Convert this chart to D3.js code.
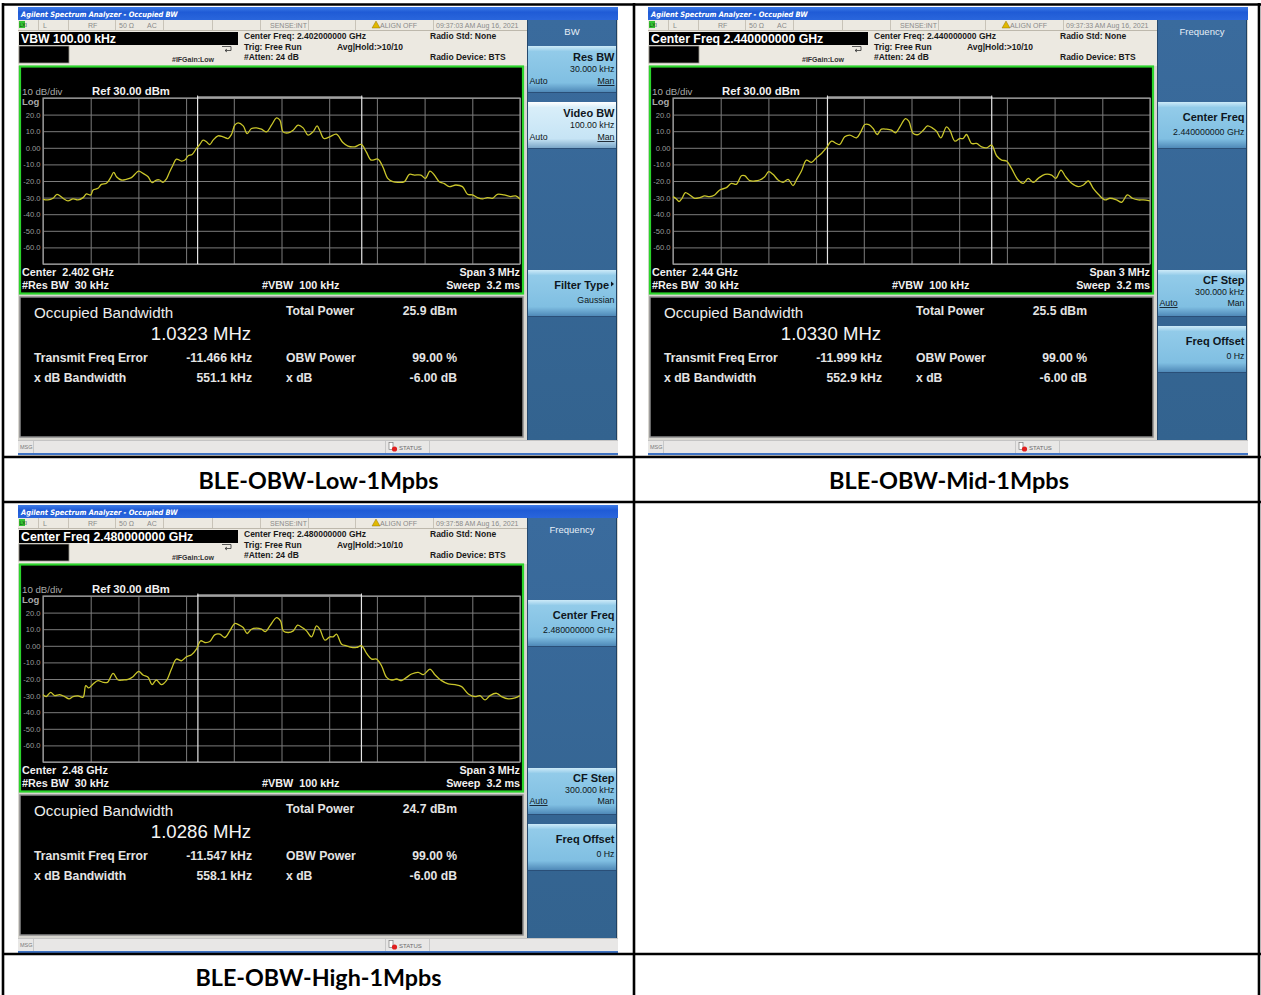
<!DOCTYPE html>
<html>
<head>
<meta charset="utf-8">
<script src="https://cdn.jsdelivr.net/npm/d3@7"></script>
<style>
  html, body { margin: 0; padding: 0; background: #fff; }
  svg { display: block; font-family: "Liberation Sans", Arial, sans-serif; }
</style>
</head>
<body>
<svg id="page" width="1261" height="995"></svg>
<script>
// ---- measurement data -------------------------------------------------------
const captions        = ["BLE-OBW-Low-1Mpbs", "BLE-OBW-Mid-1Mpbs", "BLE-OBW-High-1Mpbs"];
const centerFreqGHz   = ["2.402000000", "2.440000000", "2.480000000"];
const centerShort     = ["2.402", "2.44", "2.48"];
const timestamps      = ["09:37:03 AM Aug 16, 2021", "09:37:33 AM Aug 16, 2021", "09:37:58 AM Aug 16, 2021"];
const occupiedBwMHz   = [1.0323, 1.0330, 1.0286];
const totalPowerDbm   = [25.9, 25.5, 24.7];
const freqErrorKHz    = [-11.466, -11.999, -11.547];
const xdbBandwidthKHz = [551.1, 552.9, 558.1];
const obwPowerPct     = 99.00;
const xdbValue        = -6.00;

const refLevelDbm = 30;
const dbPerDiv    = 10;
const spanKHz     = 3000;
const yTickValues = [20, 10, 0, -10, -20, -30, -40, -50, -60];
const yTickLabels = ["20.0", "10.0", "0.00", "-10.0", "-20.0", "-30.0", "-40.0", "-50.0", "-60.0"];

// trace samples: frequency offset from centre (kHz) and level (dBm)
const lowOffsetKHz = [-1500,-1469,-1437,-1412,-1374,-1343,-1311,-1280,-1248,-1227,-1200,-1185,-1154,-1133,-1101,-1075,-1055,-1038,-1007,-976,-944,-898,-871,-839,-814,-787,-766,-745,-724,-703,-682,-661,-629,-608,-587,-562,-535,-514,-493,-472,-451,-430,-399,-367,-336,-315,-294,-273,-241,-216,-189,-157,-126,-94,-63,-31,-10,10,42,73,104,136,167,198,224,240,267,303,345,386,418,460,501,533,564,606,637,668,700,731,773,804,836,877,905,934,961,992,1024,1055,1097,1138,1170,1201,1232,1264,1295,1327,1358,1400,1441,1473,1500];
const lowLevelDbm  = [-31,-31.4,-30.4,-28,-30.4,-32,-30.8,-31.4,-30,-27.8,-28.4,-25.4,-24.4,-22,-21.4,-18,-14.8,-17.4,-19.4,-19,-18,-14,-15.4,-17.4,-21,-19.4,-19.4,-20.8,-18.8,-14.4,-10.4,-6.8,-8,-7.4,-4.8,-4,-0.4,2,4.6,3.6,2,4.6,7.2,6.6,5.6,8,13.6,15,13.2,8.6,11.6,12,11.2,9.6,13.6,18,16.6,9.6,9,10.6,13.6,12,7.6,9.6,13.2,10.6,5.6,6.6,8.2,3.2,1,0.6,2,-2.4,-7.4,-6.8,-11.4,-18.4,-20.4,-20.8,-20.4,-16,-16.4,-16.4,-18.4,-14,-16.4,-20.4,-21.6,-23.4,-22.4,-23.4,-28,-28.4,-30,-30.8,-30,-30.4,-28,-28.4,-29.4,-29,-30.8];

const midOffsetKHz = [-1500,-1479,-1462,-1443,-1422,-1395,-1364,-1332,-1301,-1269,-1238,-1206,-1164,-1133,-1101,-1070,-1049,-1017,-986,-955,-923,-898,-871,-839,-808,-776,-745,-724,-692,-661,-629,-598,-566,-535,-503,-472,-451,-420,-388,-346,-319,-294,-268,-241,-216,-189,-157,-126,-101,-73,-38,-17,11,42,74,101,130,157,185,220,241,273,304,325,346,378,409,441,472,504,535,567,598,629,671,703,734,766,797,839,881,908,940,969,1007,1049,1081,1112,1143,1175,1217,1248,1290,1322,1358,1389,1427,1458,1500];
const midLevelDbm  = [-29.4,-30.8,-32.4,-30.4,-27,-28.4,-30.4,-30,-29,-29.4,-28.4,-25.4,-24,-21.4,-22,-16.8,-16.8,-19.8,-20,-19.4,-17.4,-14.4,-16,-19.4,-20.8,-19,-22.8,-19.4,-14,-7.4,-8.8,-6,-3.4,0,4,2.6,2,6.6,7.6,6,9.6,14,14,11.6,8,11.2,11.2,10.6,9,12.6,17.6,16,8.6,8,10.6,13.2,12,10,6,12.6,10.6,4,5.6,5.6,8,2.6,2.6,0.6,0,1.6,-4.8,-7.4,-8,-12.4,-19.4,-21.4,-18.4,-20.8,-18.4,-16,-16.4,-18.4,-13.4,-17.4,-21.4,-23.4,-22.4,-20,-24.4,-28,-31.4,-30.4,-31.4,-32.8,-28.4,-30.4,-31.4,-31.4,-32];

const highOffsetKHz = [-1500,-1479,-1452,-1427,-1395,-1364,-1336,-1311,-1280,-1248,-1231,-1213,-1185,-1154,-1122,-1095,-1059,-1028,-996,-965,-934,-898,-871,-839,-814,-787,-755,-724,-692,-661,-629,-598,-566,-535,-508,-482,-451,-420,-388,-357,-325,-294,-268,-241,-216,-189,-157,-126,-101,-73,-31,-6,11,42,74,101,130,157,189,220,241,273,304,325,346,378,409,441,472,504,535,567,598,629,661,692,724,755,787,818,860,892,934,965,1007,1049,1091,1133,1175,1217,1248,1280,1311,1353,1384,1427,1469,1500];
const highLevelDbm  = [-29.4,-30.6,-28,-30,-29.4,-30.6,-32,-30.6,-30.2,-31,-24,-25.4,-23,-21,-22,-22,-16.6,-20.6,-20.6,-20.2,-18.6,-15.4,-17.6,-19,-23.4,-20.6,-23.4,-21,-14,-8,-9,-6.6,-5.4,-2,3,2,2.6,6.6,7,5,9,13.4,12.6,11,7.4,10,10.6,10,8.6,12,17,15,9,8,9,12.4,11,9,5.4,12,10,3.4,5.4,5.4,7,1,0,-1,-1,0,-4.6,-8,-8,-12,-19,-20.6,-20,-21,-19,-17,-16,-17.4,-14,-17.4,-21,-23,-23.4,-24.6,-29,-30.6,-30,-32.6,-30,-28.6,-30.6,-32,-31.4,-30];

const traceOffsets = [lowOffsetKHz, midOffsetKHz, highOffsetKHz];
const traceLevels  = [lowLevelDbm, midLevelDbm, highLevelDbm];

// soft keys shown in the right-hand menu of each capture
const bwMenu = { title: "BW", keys: [
  { slot: 0, label: "Res BW", value: "30.000 kHz", auto: true, underline: "man" },
  { slot: 1, label: "Video BW", value: "100.00 kHz", auto: true, underline: "man", selected: true },
  { slot: 4, label: "Filter Type", value: "Gaussian", arrow: true }
]};
const freqMenu = (cf) => ({ title: "Frequency", keys: [
  { slot: 1, label: "Center Freq", value: cf + " GHz" },
  { slot: 4, label: "CF Step", value: "300.000 kHz", auto: true, underline: "auto", compact: true },
  { slot: 5, label: "Freq Offset", value: "0 Hz" }
]});

// ---- page ----------------------------------------------------------------------
const svg = d3.select("#page");
const defs = svg.append("defs");
const NB = "\u00a0";

function vGradient(id, stops) {
  const lg = defs.append("linearGradient").attr("id", id).attr("x1", 0).attr("y1", 0).attr("x2", 0).attr("y2", 1);
  stops.forEach(([o, c]) => lg.append("stop").attr("offset", o).attr("stop-color", c));
}
vGradient("titleGrad", [["0%", "#3d7be6"], ["40%", "#1f5bd6"], ["100%", "#2a66dc"]]);
vGradient("keyGrad", [["0%", "#cdeaf8"], ["12%", "#92cbe9"], ["80%", "#80bfe2"], ["100%", "#4f89b8"]]);
vGradient("keySelGrad", [["0%", "#ffffff"], ["12%", "#d8eef9"], ["80%", "#c6e4f5"], ["100%", "#7aa6c8"]]);
vGradient("menuGrad", [["0%", "#3a6b9d"], ["100%", "#33638f"]]);

// one analyzer capture
function drawCapture(g, i, menu, headerText) {
  const PW = 600, PH = 449;
  // frame
  g.append("rect").attr("x", 0).attr("y", 0).attr("width", PW).attr("height", PH).attr("fill", "#d8d6d0");

  // window title bar
  g.append("rect").attr("x", 0).attr("y", 0).attr("width", PW).attr("height", 13).attr("fill", "url(#titleGrad)");
  g.append("text").attr("x", 3).attr("y", 9.5).attr("fill", "#fff").attr("font-size", 7.4).attr("font-weight", "bold")
    .style("font-family", "'DejaVu Sans Condensed', 'Liberation Sans', sans-serif").attr("font-style", "italic")
    .text("Agilent Spectrum Analyzer - Occupied BW");

  // status row + info header
  g.append("rect").attr("x", 0).attr("y", 13).attr("width", 509).attr("height", 46).attr("fill", "#ece9e1");
  g.append("line").attr("x1", 0).attr("x2", 509).attr("y1", 23.5).attr("y2", 23.5).attr("stroke", "#bdb8ac");
  [20, 50, 97, 145, 194, 242, 290, 337, 415].forEach(x =>
    g.append("line").attr("x1", x + .5).attr("x2", x + .5).attr("y1", 13).attr("y2", 23).attr("stroke", "#c8c3b8"));
  g.append("rect").attr("x", 1).attr("y", 14).attr("width", 6).attr("height", 7).attr("fill", "#33c233");
  g.append("text").attr("x", 1.5).attr("y", 20).attr("font-size", 5).attr("fill", "#114411").text("LXI");
  const statusTxt = [[25, "L"], [70, "RF"], [101, "50 Ω"], [129, "AC"], [252, "SENSE:INT"], [362, "ALIGN OFF"], [418, timestamps[i]]];
  statusTxt.forEach(([x, t]) => g.append("text").attr("x", x).attr("y", 20.5).attr("font-size", 7).attr("fill", "#8a8a8a").text(t));
  g.append("path").attr("d", "M354,21 L358,14 L362,21 Z").attr("fill", "#e0b800").attr("stroke", "#806000").attr("stroke-width", .4);

  // black readout boxes
  g.append("rect").attr("x", 1).attr("y", 25).attr("width", 219).attr("height", 13).attr("fill", "#000");
  g.append("rect").attr("x", 1).attr("y", 39).attr("width", 50).attr("height", 17).attr("fill", "#000").attr("stroke", "#9a978f").attr("stroke-width", .8);
  g.append("text").attr("x", 3).attr("y", 35.8).attr("font-size", 12.3).attr("font-weight", "bold").attr("fill", "#fff").text(headerText);

  const dark = "#1a1a1a";
  const info = [[226, 32, "Center Freq: " + centerFreqGHz[i] + " GHz"], [226, 42.5, "Trig: Free Run"], [226, 53, "#Atten: 24 dB"],
                [319, 42.5, "Avg|Hold:>10/10"], [412, 32, "Radio Std: None"], [412, 53, "Radio Device: BTS"]];
  info.forEach(([x, y, t]) => g.append("text").attr("x", x).attr("y", y).attr("font-size", 8.5).attr("font-weight", "bold").attr("fill", dark).text(t));
  g.append("text").attr("x", 154).attr("y", 54.5).attr("font-size", 7).attr("font-weight", "bold").attr("fill", "#333").text("#IFGain:Low");
  g.append("path").attr("d", "M204,39.5 h9 v4 h-6 M209,42 l-2,1.5 l2,1.5").attr("fill", "none").attr("stroke", "#333").attr("stroke-width", .8);

  // ---- trace window ----
  g.append("rect").attr("x", 2).attr("y", 59.5).attr("width", 503).attr("height", 227).attr("fill", "#000")
    .attr("stroke", "#2bd42b").attr("stroke-width", 2.2);

  const gx0 = 25, gx1 = 502, gy0 = 91, gy1 = 257;
  const x = d3.scaleLinear().domain([-spanKHz / 2, spanKHz / 2]).range([gx0, gx1]);
  const y = d3.scaleLinear().domain([refLevelDbm - 10 * dbPerDiv, refLevelDbm]).range([gy1, gy0]);

  // graticule
  const vGrid = d3.axisBottom(x).tickValues(d3.range(-spanKHz / 2, spanKHz / 2 + 1, spanKHz / 10)).tickSize(-(gy1 - gy0)).tickFormat("");
  const gv = g.append("g").attr("transform", `translate(0,${gy1})`).call(vGrid);
  const hGrid = d3.axisLeft(y).tickValues(d3.range(refLevelDbm - 10 * dbPerDiv, refLevelDbm + 1, dbPerDiv)).tickSize(-(gx1 - gx0)).tickFormat("");
  const gh = g.append("g").attr("transform", `translate(${gx0},0)`).call(hGrid);
  [gv, gh].forEach(a => { a.select(".domain").remove(); a.selectAll("line").attr("stroke", "#7c7c7c").attr("stroke-width", 1); });
  g.append("rect").attr("x", gx0).attr("y", gy0).attr("width", gx1 - gx0).attr("height", gy1 - gy0)
    .attr("fill", "none").attr("stroke", "#9a9a9a").attr("stroke-width", 1.2);

  // amplitude labels
  const yl = d3.axisLeft(y).tickValues(yTickValues).tickSize(0).tickPadding(1.5).tickFormat((d, k) => yTickLabels[k]);
  const gyl = g.append("g").attr("transform", `translate(${gx0 - 1},0)`).call(yl);
  gyl.select(".domain").remove();
  gyl.selectAll("text").attr("fill", "#9c9c9c").attr("font-size", 7.6).attr("font-family", null).attr("dy", "0.34em");

  g.append("text").attr("x", 4).attr("y", 88).attr("font-size", 9.7).attr("fill", "#a8a8a8").text(dbPerDiv + " dB/div");
  g.append("text").attr("x", 74).attr("y", 88).attr("font-size", 11.3).attr("font-weight", "bold").attr("fill", "#f2f2f2").text("Ref " + refLevelDbm.toFixed(2) + " dBm");
  g.append("text").attr("x", 4).attr("y", 97.5).attr("font-size", 9.5).attr("font-weight", "bold").attr("fill", "#a8a8a8").text("Log");

  // occupied bandwidth markers
  const obwCenter = freqErrorKHz[i];
  const half = occupiedBwMHz[i] * 1000 / 2;
  const mL = x(obwCenter - half), mR = x(obwCenter + half);
  g.append("path").attr("d", `M${mL},${gy1} V${gy0 - 1} H${mR} V${gy1}`)
    .attr("fill", "none").attr("stroke", "#e6e6e6").attr("stroke-width", 1.2);
  [mL, mR].forEach(mx => g.append("line").attr("x1", mx).attr("x2", mx).attr("y1", gy0 - 2.5).attr("y2", gy0).attr("stroke", "#e6e6e6"));

  // spectrum trace
  const pts = traceOffsets[i].map((f, k) => [f, traceLevels[i][k]]);
  g.append("path").datum(pts)
    .attr("d", d3.line().x(d => x(d[0])).y(d => y(d[1])).curve(d3.curveCatmullRom.alpha(0.5)))
    .attr("fill", "none").attr("stroke", "#c9c52a").attr("stroke-width", 1.3).attr("stroke-linejoin", "round");

  // bottom annotations of the trace window
  const ann = (xx, yy, t, anchor) => g.append("text").attr("x", xx).attr("y", yy).attr("font-size", 10.8).attr("font-weight", "bold")
    .attr("fill", "#f0f0f0").attr("text-anchor", anchor || "start").text(t);
  ann(4, 269, "Center" + NB + NB + centerShort[i] + " GHz");
  ann(4, 281.5, "#Res BW" + NB + NB + "30 kHz");
  ann(244, 281.5, "#VBW" + NB + NB + "100 kHz");
  ann(502, 269, "Span 3 MHz", "end");
  ann(502, 281.5, "Sweep" + NB + NB + "3.2 ms", "end");

  // ---- results table ----
  g.append("rect").attr("x", 2).attr("y", 290).attr("width", 503).attr("height", 140).attr("fill", "#000")
    .attr("stroke", "#8a8a8a").attr("stroke-width", 1.5);
  g.append("text").attr("x", 16).attr("y", 311).attr("font-size", 15.2).attr("fill", "#ececec").text("Occupied Bandwidth");
  g.append("text").attr("x", 183).attr("y", 332.5).attr("font-size", 18.6).attr("fill", "#f4f4f4").attr("text-anchor", "middle")
    .text(occupiedBwMHz[i].toFixed(4) + " MHz");
  const res = (xx, yy, t, anchor) => g.append("text").attr("x", xx).attr("y", yy).attr("font-size", 12.2).attr("font-weight", "bold")
    .attr("fill", "#e4e4e4").attr("text-anchor", anchor || "start").text(t);
  res(268, 308, "Total Power");
  res(439, 308, totalPowerDbm[i].toFixed(1) + " dBm", "end");
  res(16, 355, "Transmit Freq Error");
  res(234, 355, freqErrorKHz[i].toFixed(3) + " kHz", "end");
  res(268, 355, "OBW Power");
  res(439, 355, obwPowerPct.toFixed(2) + " %", "end");
  res(16, 375, "x dB Bandwidth");
  res(234, 375, xdbBandwidthKHz[i].toFixed(1) + " kHz", "end");
  res(268, 375, "x dB");
  res(439, 375, xdbValue.toFixed(2) + " dB", "end");

  // ---- soft key menu ----
  g.append("rect").attr("x", 509).attr("y", 13).attr("width", 90).attr("height", 420).attr("fill", "url(#menuGrad)");
  g.append("line").attr("x1", 509.5).attr("x2", 509.5).attr("y1", 13).attr("y2", 433).attr("stroke", "#25496e");
  g.append("line").attr("x1", 598.5).attr("x2", 598.5).attr("y1", 13).attr("y2", 433).attr("stroke", "#1f4163");
  g.append("text").attr("x", 554).attr("y", 28).attr("font-size", 9.5).attr("fill", "#e6eef6").attr("text-anchor", "middle").text(menu.title);

  menu.keys.forEach(k => {
    const top = 39 + k.slot * 56;
    const kb = g.append("g").attr("transform", `translate(510,${top})`);
    kb.append("rect").attr("x", 0).attr("y", 0).attr("width", 88).attr("height", 46).attr("fill", k.selected ? "url(#keySelGrad)" : "url(#keyGrad)");
    kb.append("line").attr("x1", 0).attr("x2", 88).attr("y1", 46.5).attr("y2", 46.5).attr("stroke", "#2a4f78").attr("stroke-width", 1.2);
    const o = k.compact ? [14, 24.5, 36] : (k.auto ? [15, 26, 38] : [18.5, 33]);
    kb.append("text").attr("x", k.arrow ? 81 : 86.5).attr("y", o[0]).attr("font-size", 11).attr("font-weight", "bold").attr("fill", "#0e1620")
      .attr("text-anchor", "end").text(k.label);
    if (k.arrow) kb.append("path").attr("d", "M83,11.5 l3,2.5 l-3,2.5 Z").attr("fill", "#0e1620");
    kb.append("text").attr("x", 86.5).attr("y", o[1]).attr("font-size", 8.8).attr("fill", "#0e1620").attr("text-anchor", "end").text(k.value);
    if (k.auto) {
      const at = kb.append("text").attr("x", 1.5).attr("y", o[2]).attr("font-size", 8.8).attr("fill", "#0e1620").text("Auto");
      const mt = kb.append("text").attr("x", 86.5).attr("y", o[2]).attr("font-size", 8.8).attr("fill", "#0e1620").attr("text-anchor", "end").text("Man");
      (k.underline === "auto" ? at : mt).attr("text-decoration", "underline");
    }
  });

  // ---- message bar ----
  g.append("rect").attr("x", 0).attr("y", 433).attr("width", PW).attr("height", 13).attr("fill", "#e8e7e6");
  g.append("line").attr("x1", 0).attr("x2", PW).attr("y1", 433.5).attr("y2", 433.5).attr("stroke", "#c4c4c4");
  [15, 367, 411].forEach(xx => g.append("line").attr("x1", xx + .5).attr("x2", xx + .5).attr("y1", 434).attr("y2", 446).attr("stroke", "#c8c8c8"));
  g.append("text").attr("x", 2).attr("y", 442).attr("font-size", 5.5).attr("fill", "#7a7a7a").text("MSG");
  g.append("rect").attr("x", 371).attr("y", 435.5).attr("width", 4).attr("height", 7).attr("fill", "#fff").attr("stroke", "#666").attr("stroke-width", .6);
  g.append("circle").attr("cx", 376.5).attr("cy", 442).attr("r", 2.6).attr("fill", "#e02020");
  g.append("text").attr("x", 381).attr("y", 442.5).attr("font-size", 6).attr("fill", "#6a6a6a").text("STATUS");
  g.append("rect").attr("x", 0).attr("y", 446).attr("width", PW).attr("height", 2).attr("fill", "#3f73c4");
}

// capture positions inside the table
const origins = [[18, 7], [648, 7], [18, 505]];
const menus = [bwMenu, freqMenu(centerFreqGHz[1]), freqMenu(centerFreqGHz[2])];
const headers = ["VBW 100.00 kHz", "Center Freq " + centerFreqGHz[1] + " GHz", "Center Freq " + centerFreqGHz[2] + " GHz"];
origins.forEach(([ox, oy], i) => drawCapture(svg.append("g").attr("transform", `translate(${ox},${oy})`), i, menus[i], headers[i]));

// ---- table rules and captions ----
const rule = (x1, y1, x2, y2) => svg.append("line").attr("x1", x1).attr("y1", y1).attr("x2", x2).attr("y2", y2)
  .attr("stroke", "#000").attr("stroke-width", 2.6);
rule(2, 4.5, 1261, 4.5);
rule(3, 3, 3, 995);
rule(1259, 3, 1259, 995);
rule(634, 3, 634, 995);
rule(2, 457, 1261, 457);
rule(2, 502, 1261, 502);
rule(2, 954, 1261, 954);

const capPos = [[318.5, 489], [949, 489], [318.5, 986]];
const capWidth = [240, 240, 246];
captions.forEach((c, i) => svg.append("text").attr("x", capPos[i][0]).attr("y", capPos[i][1])
  .attr("text-anchor", "middle").style("font-family", "Lato, 'Open Sans', sans-serif").attr("font-weight", "bold")
  .attr("font-size", 23).attr("fill", "#000")
  .attr("textLength", capWidth[i]).attr("lengthAdjust", "spacingAndGlyphs").text(c));
</script>
</body>
</html>
